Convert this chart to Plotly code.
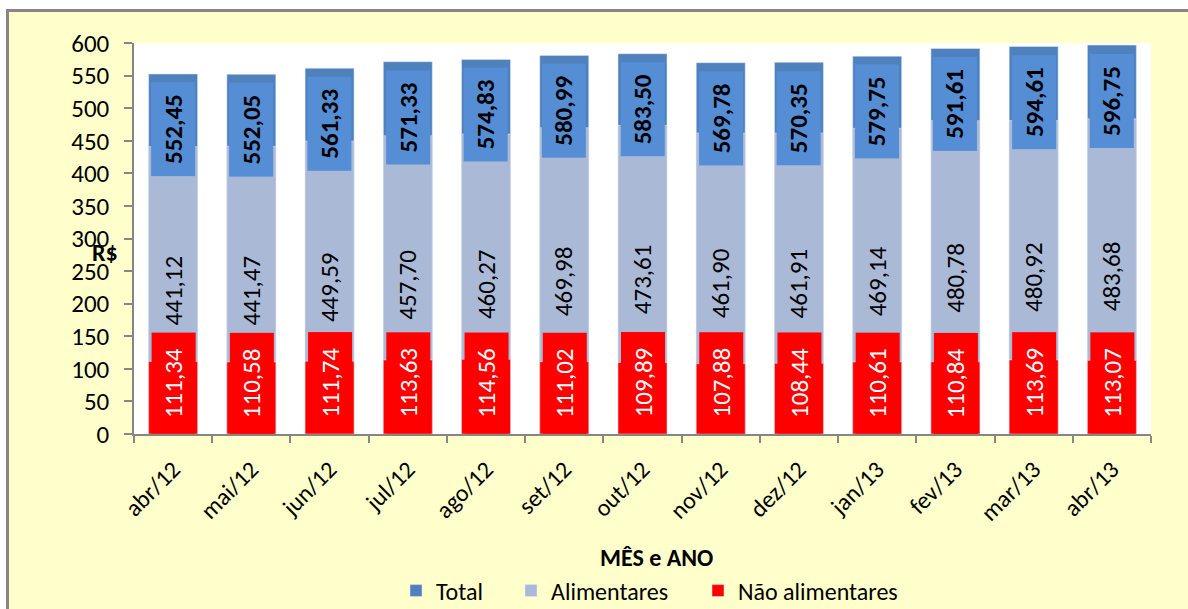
import plotly.graph_objects as go

categories = ["abr/12", "mai/12", "jun/12", "jul/12", "ago/12", "set/12", "out/12",
              "nov/12", "dez/12", "jan/13", "fev/13", "mar/13", "abr/13"]
total = [552.45, 552.05, 561.33, 571.33, 574.83, 580.99, 583.50, 569.78, 570.35,
         579.75, 591.61, 594.61, 596.75]
alimentares = [441.12, 441.47, 449.59, 457.70, 460.27, 469.98, 473.61, 461.90,
               461.91, 469.14, 480.78, 480.92, 483.68]
nao_alimentares = [111.34, 110.58, 111.74, 113.63, 114.56, 111.02, 109.89, 107.88,
                   108.44, 110.61, 110.84, 113.69, 113.07]
y_ticks = [0, 50, 100, 150, 200, 250, 300, 350, 400, 450, 500, 550, 600]

W, H = 1188, 609
L, R, T, B = 134, 37, 43, 175
PW, PH = W - L - R, H - T - B

def px_x(px):
    return (px - L) / PW

def px_y(py):
    return (H - B - py) / PH

def fmt(v):
    return f"{v:.2f}".replace(".", ",")

FONT = "Carlito, Calibri, Lato, sans-serif"
C_TOTAL = "#4F81BD"
C_TOTAL_BOX = "#558ED5"
C_ALIM = "#AAB9D6"
C_NAO = "#FF0000"
BW = 0.626

fig = go.Figure()
fig.add_trace(go.Bar(x=categories, y=total, name="Total", marker_color=C_TOTAL,
                     width=BW, hoverinfo="skip", legend="legend"))
fig.add_trace(go.Bar(x=categories, y=alimentares, name="Alimentares", marker_color=C_ALIM,
                     width=BW, hoverinfo="skip", legend="legend2"))
fig.add_trace(go.Bar(x=categories, y=nao_alimentares, name="Não alimentares",
                     marker_color=C_NAO, width=BW, hoverinfo="skip", legend="legend3"))

annotations = []
for c, t, a, n in zip(categories, total, alimentares, nao_alimentares):
    annotations.append(dict(x=c, y=t, xref="x", yref="y", text=f"<b>{fmt(t)}</b>",
                            showarrow=False, textangle=-90, yanchor="top", yshift=-8,
                            bgcolor=C_TOTAL_BOX, width=91, height=41,
                            font=dict(family=FONT, size=25, color="black")))
    annotations.append(dict(x=c, y=a / 2, xref="x", yref="y", text=fmt(a),
                            showarrow=False, textangle=-90,
                            font=dict(family=FONT, size=25, color="black")))
    annotations.append(dict(x=c, y=0, xref="x", yref="y", text=fmt(n),
                            showarrow=False, textangle=-90, yanchor="bottom",
                            bgcolor=C_NAO, width=98, height=41,
                            font=dict(family=FONT, size=25, color="white")))

annotations.append(dict(x=px_x(656), y=px_y(557), xref="paper", yref="paper",
                        xanchor="center", yanchor="middle",
                        text="<b>MÊS e ANO</b>", showarrow=False,
                        font=dict(family=FONT, size=24, color="black")))
annotations.append(dict(x=px_x(105), y=px_y(252), xref="paper", yref="paper",
                        xanchor="center", yanchor="middle",
                        text="<b>R$</b>", showarrow=False,
                        font=dict(family=FONT, size=24, color="black")))

shapes = [
    dict(type="rect", xref="paper", yref="paper", x0=px_x(0), x1=px_x(W),
         y0=px_y(0), y1=px_y(9), fillcolor="white", line_width=0, layer="below"),
    dict(type="rect", xref="paper", yref="paper", x0=px_x(0), x1=px_x(6),
         y0=px_y(0), y1=px_y(H), fillcolor="white", line_width=0, layer="below"),
    dict(type="line", xref="paper", yref="paper", x0=px_x(6), x1=px_x(W),
         y0=px_y(10.5), y1=px_y(10.5), line=dict(color="#878787", width=3), layer="below"),
    dict(type="line", xref="paper", yref="paper", x0=px_x(7.5), x1=px_x(7.5),
         y0=px_y(9), y1=px_y(H), line=dict(color="#878787", width=3), layer="below"),
]

def legend_at(px_left):
    return dict(orientation="h", x=px_x(px_left), y=px_y(591), xanchor="left",
                yanchor="middle", font=dict(family=FONT, size=24, color="black"),
                bgcolor="rgba(0,0,0,0)", itemclick=False, itemdoubleclick=False)

fig.update_layout(
    width=W, height=H,
    margin=dict(l=L, r=R, t=T, b=B, autoexpand=False),
    barmode="overlay",
    paper_bgcolor="#FFFFCC",
    plot_bgcolor="white",
    font=dict(family=FONT, size=24, color="black"),
    showlegend=True,
    legend=legend_at(396),
    legend2=legend_at(511),
    legend3=legend_at(698),
    annotations=annotations,
    shapes=shapes,
    hovermode=False,
)
fig.update_xaxes(
    type="category", tickangle=-45, tickson="boundaries", ticks="outside",
    ticklen=7, tickcolor="#868686", tickwidth=1.5,
    showline=True, linecolor="#868686", linewidth=1.5,
    showgrid=False, ticklabelstandoff=10,
    tickfont=dict(family=FONT, size=24, color="black"),
)
fig.update_yaxes(
    range=[0, 600], tickvals=y_ticks, ticktext=[str(v) for v in y_ticks],
    ticks="outside", ticklen=8, tickcolor="#868686", tickwidth=1.5,
    showline=True, linecolor="#868686", linewidth=1.5, showgrid=False,
    zeroline=False, ticklabelstandoff=10,
    tickfont=dict(family=FONT, size=25, color="black"),
)

fig.write_html("out.html", config={"displayModeBar": False},
               post_script="document.body.style.margin='0';")
